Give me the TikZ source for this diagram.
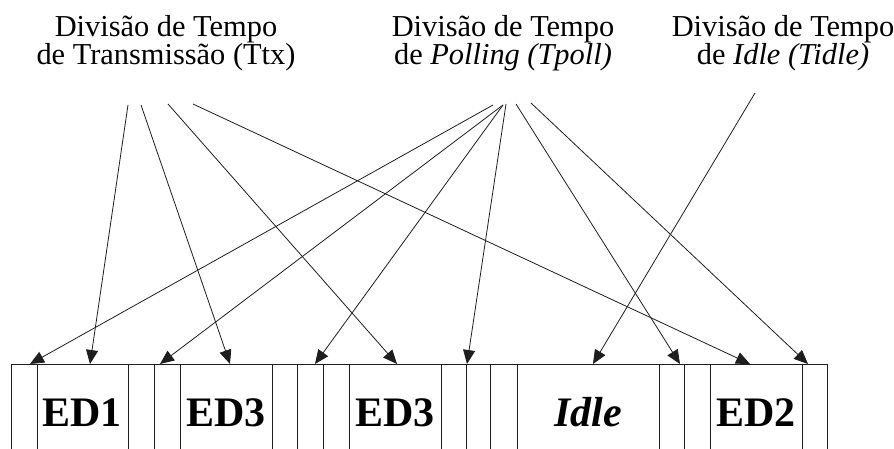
\documentclass[tikz,border=0pt]{standalone}
\usepackage{fontspec}
\setmainfont{Liberation Serif}
\usepackage{tikz}
\usetikzlibrary{positioning, arrows.meta}
\definecolor{LineColor}{RGB}{30,30,30}
\tikzstyle{arrow} = [line width=0.8pt, LineColor, -{Triangle[length=14pt,width=12pt]}]
\tikzstyle{slot} = [line width=0.8pt, LineColor]
\tikzstyle{title} = [align=center, inner sep=0pt, anchor=base, font=\fontsize{30.4}{28}\selectfont]
\tikzstyle{cell} = [anchor=base, inner sep=0pt, font=\fontsize{42}{42}\selectfont\bfseries]

\begin{document}
\begin{tikzpicture}[x=1pt, y=-1pt]
    \useasboundingbox (0,0) rectangle (894,449);
    % Titles (anchored at the baseline of the second line)
    \node[title] (ttx) at (166,65) {Divisão de Tempo\\de Transmissão (Ttx)};
    \node[title] (tpoll) at (503,65) {Divisão de Tempo\\de \textit{Polling (Tpoll)}};
    \node[title] (tidle) at (783,65) {Divisão de Tempo\\de \textit{Idle (Tidle)}};
    % Time slots
    \draw[slot] (11,364) -- (827,364);
    \foreach \x in {11,37,128,154,180,272,297,323,349,441,466,490,517,659,684,710,802,827}
        \draw[slot] (\x,364) -- (\x,449);
    \node[cell] (ed1) at (82,426) {ED1};
    \node[cell] (ed3a) at (226,426) {ED3};
    \node[cell] (ed3b) at (395,426) {ED3};
    \node[cell] (idle) at (588,426) {\textit{Idle}};
    \node[cell] (ed2) at (756,426) {ED2};
    % Start and end points
    \coordinate (ttx1) at (128,105);
    \coordinate (ttx2) at (141,105);
    \coordinate (ttx3) at (168,104);
    \coordinate (ttx4) at (193,104);
    \coordinate (poll1) at (493,105);
    \coordinate (poll2) at (503,105);
    \coordinate (poll3) at (506,104);
    \coordinate (poll4) at (516,104);
    \coordinate (poll5) at (531,103);
    \coordinate (idle1) at (755,93);
    \coordinate (p1) at (30,364);
    \coordinate (t1) at (90,364);
    \coordinate (p2) at (160,364);
    \coordinate (t2) at (230,364);
    \coordinate (p3) at (315,364);
    \coordinate (t3) at (397,364);
    \coordinate (p4) at (467,364);
    \coordinate (i1) at (593,364);
    \coordinate (p5) at (680,364);
    \coordinate (t4) at (750,364);
    \coordinate (p6) at (808,364);
    % Arrows
    \draw[arrow] (ttx1) -- (t1);
    \draw[arrow] (ttx2) -- (t2);
    \draw[arrow] (ttx3) -- (t3);
    \draw[arrow] (ttx4) -- (t4);
    \draw[arrow] (poll1) -- (p1);
    \draw[arrow] (poll2) -- (p2);
    \draw[arrow] (poll2) -- (p3);
    \draw[arrow] (poll3) -- (p4);
    \draw[arrow] (poll4) -- (p5);
    \draw[arrow] (poll5) -- (p6);
    \draw[arrow] (idle1) -- (i1);
\end{tikzpicture}
\end{document}
